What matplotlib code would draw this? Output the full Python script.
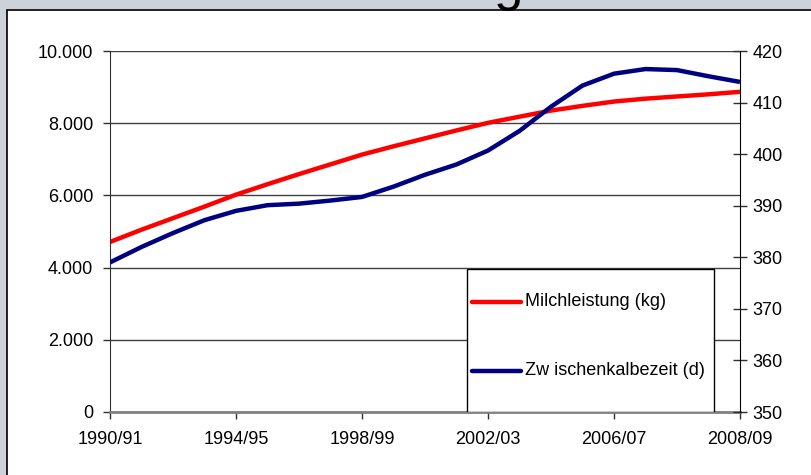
import matplotlib
matplotlib.use("Agg")
from matplotlib import pyplot as plt
from matplotlib.patches import Rectangle
from matplotlib.lines import Line2D

plt.rcParams['font.family'] = ['Liberation Sans', 'DejaVu Sans']

# Data (21 evenly spaced points along the category axis)
tick_labels = ["1990/91", "1994/95", "1998/99", "2002/03", "2006/07", "2008/09"]
tick_pos = [0, 4, 8, 12, 16, 20]
points = list(range(21))

milch = [4710, 5050, 5370, 5690, 6020, 6310, 6590, 6860, 7130, 7360, 7580,
         7800, 8010, 8180, 8350, 8480, 8600, 8680, 8740, 8800, 8870]
zkz = [379.0, 382.0, 384.7, 387.2, 389.0, 390.1, 390.4, 391.0, 391.7, 393.7, 396.0,
       398.0, 400.7, 404.5, 409.2, 413.3, 415.6, 416.5, 416.3, 415.1, 414.0]
series_names = ["Milchleistung (kg)", "Zw ischenkalbezeit (d)"]
series_colors = ["#ff0000", "#000080"]

fig = plt.figure(figsize=(8.11, 4.75), dpi=100)
fig.patch.set_facecolor("#cdd1da")

# white chart panel with black border on left/top
panel = Rectangle((7 / 811, -0.1), 1.2, 1.1 - 10 / 475, transform=fig.transFigure,
                  facecolor="white", edgecolor="black", linewidth=1.2, zorder=-10)
fig.patches.append(panel)

# cut-off title
fig.text(0.627, 1.0, "g", fontsize=38, ha="center", va="baseline")

ax = fig.add_axes([110 / 811, 1 - 412 / 475, 630 / 811, 361 / 475])
ax.set_facecolor("none")
ax.plot(points, milch, color=series_colors[0], lw=3.2, solid_capstyle="butt")
ax.set_ylim(0, 10000)
ax.set_xlim(0, 20)
ax.set_yticks(range(0, 10001, 2000))
ax.set_yticklabels(["0", "2.000", "4.000", "6.000", "8.000", "10.000"])
ax.set_xticks(tick_pos)
ax.set_xticklabels(tick_labels)
ax.grid(axis="y", color="#404040", lw=1.0)
ax.set_axisbelow(True)
ax.tick_params(axis="y", direction="out", length=5, width=1, pad=7, labelsize=13, color="#303030")
ax.tick_params(axis="x", direction="out", length=5, width=1, pad=9, labelsize=13, color="#303030")
ax.spines["top"].set_visible(False)
ax.spines["right"].set_visible(False)
ax.spines["left"].set_color("#303030")
ax.spines["bottom"].set_color("#808080")
ax.spines["bottom"].set_linewidth(2)

ax2 = ax.twinx()
ax2.plot(points, zkz, color=series_colors[1], lw=3.2, solid_capstyle="butt")
ax2.set_ylim(350, 420)
ax2.set_yticks(range(350, 421, 10))
ax2.tick_params(axis="y", direction="inout", length=10, width=1, pad=4, labelsize=13, color="#303030")
ax2.spines["top"].set_visible(False)
ax2.spines["left"].set_visible(False)
ax2.spines["bottom"].set_visible(False)
ax2.spines["right"].set_color("black")

# legend box (Excel style), drawn in axes coordinates
box = Rectangle((0.567, 0.0), 0.392, 0.396, transform=ax2.transAxes,
                facecolor="white", edgecolor="black", linewidth=1.0, zorder=5)
ax2.add_patch(box)
for name, col, yy in zip(series_names, series_colors, [0.305, 0.114]):
    ax2.add_line(Line2D([0.574, 0.653], [yy, yy], transform=ax2.transAxes,
                        color=col, lw=3.2, solid_capstyle="round", zorder=6))
    ax2.text(0.659, yy, name, transform=ax2.transAxes, fontsize=13,
             va="center", ha="left", zorder=6)

fig.savefig("out.png", dpi=100)
